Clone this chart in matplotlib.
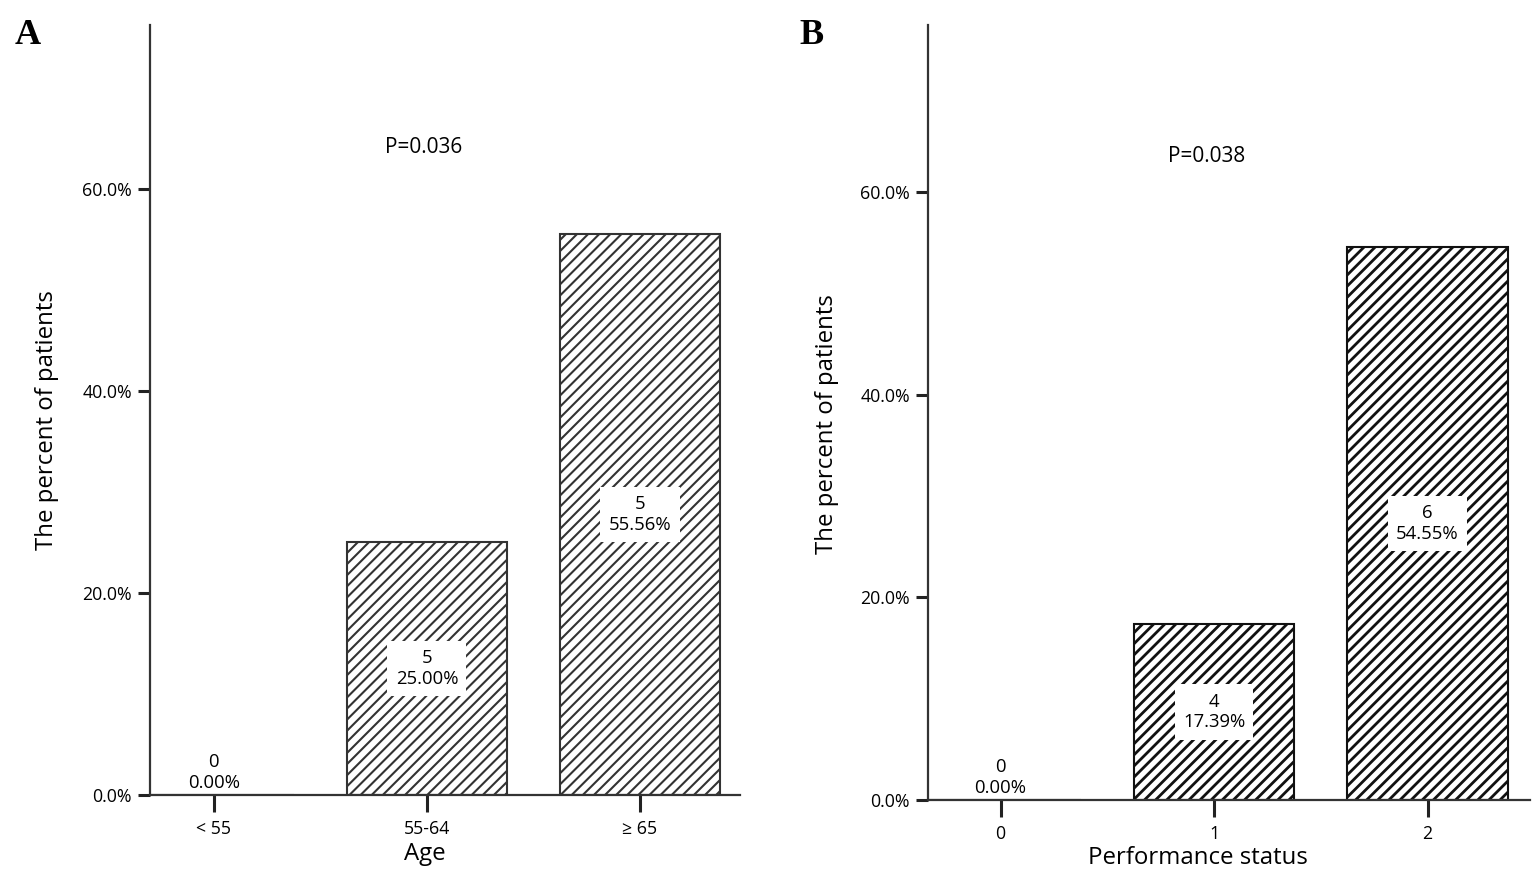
import matplotlib
matplotlib.use("Agg")
import matplotlib.pyplot as plt
from matplotlib.ticker import FuncFormatter

# Data
age_categories = ["< 55", "55-64", "\u2265 65"]
age_counts = [0, 5, 5]
age_percent = [0.0, 25.00, 55.56]
age_p = "P=0.036"

ps_categories = ["0", "1", "2"]
ps_counts = [0, 4, 6]
ps_percent = [0.0, 17.39, 54.55]
ps_p = "P=0.038"

plt.rcParams['font.family'] = ['Open Sans', 'DejaVu Sans']

W, H = 1535, 888
fig = plt.figure(figsize=(W / 100, H / 100), dpi=100)

def px_axes(l, r, b, t):
    return fig.add_axes([l / W, 1 - b / H, (r - l) / W, (b - t) / H])

def draw(ax, cats, counts, pcts, ptxt, xlabel, ptxt_pos, xlim, ytop,
         hatch_lw, edge):
    x = list(range(len(cats)))
    with plt.rc_context({'hatch.linewidth': hatch_lw, 'hatch.color': edge}):
        ax.bar(x, pcts, width=0.75, color="white", edgecolor=edge,
               linewidth=1.5, hatch="///")
    for xi, c, p in zip(x, counts, pcts):
        txt = f"{c}\n{p:.2f}%"
        if p > 0:
            ax.text(xi, p / 2, txt, ha="center", va="center", fontsize=13.3,
                    linespacing=1.2,
                    bbox=dict(facecolor="white", edgecolor="none", pad=6))
        else:
            ax.text(xi, 0.3, txt, ha="center", va="bottom", fontsize=13.3,
                    linespacing=1.2)
    ax.set_xlim(*xlim)
    ax.set_ylim(0, ytop)
    ax.set_xticks(x)
    ax.set_xticklabels(cats)
    ax.set_yticks([0, 20, 40, 60])
    ax.yaxis.set_major_formatter(FuncFormatter(lambda v, _: f"{v:.1f}%"))
    for s in ("top", "right"):
        ax.spines[s].set_visible(False)
    for s in ("left", "bottom"):
        ax.spines[s].set_linewidth(1.6)
        ax.spines[s].set_color("#333333")
    ax.tick_params(axis="y", direction="out", length=9, width=2.2,
                   labelsize=12.8, pad=4, color="#222222")
    ax.tick_params(axis="x", direction="out", length=12, width=2.2,
                   labelsize=12.8, pad=6, color="#222222")
    ax.set_ylabel("The percent of patients", fontsize=17.3)
    ax.set_xlabel(xlabel, fontsize=17.3)
    ax.text(ptxt_pos[0], ptxt_pos[1], ptxt, ha="center", va="center",
            fontsize=15, transform=ax.transData)
    return ax

axA = px_axes(150, 740, 795, 25)
draw(axA, age_categories, age_counts, age_percent, age_p, "Age",
     (0.985, 64.1), (-0.30, 2.47), 76.2, 1.5, "#333333")
axA.xaxis.set_label_coords((425 - 150) / 590, -(854 - 795) / 770)
axA.yaxis.set_label_coords(-(150 - 47) / 590, (795 - 420) / 770)
axA.xaxis.label.set_va("center")
axA.yaxis.label.set_va("center")

axB = px_axes(928, 1530, 800, 25)
draw(axB, ps_categories, ps_counts, ps_percent, ps_p, "Performance status",
     (0.965, 63.5), (-0.34, 2.48), 76.5, 2.0, "#111111")
axB.xaxis.set_label_coords((1198 - 928) / 602, -(858 - 800) / 775)
axB.yaxis.set_label_coords(-(928 - 827) / 602, (800 - 424) / 775)
axB.xaxis.label.set_va("center")
axB.yaxis.label.set_va("center")

fig.text(28 / W, 1 - 35 / H, "A", fontsize=26, fontweight="bold",
         family="Liberation Serif", ha="center", va="center")
fig.text(812 / W, 1 - 35 / H, "B", fontsize=26, fontweight="bold",
         family="Liberation Serif", ha="center", va="center")

fig.savefig("out.png", dpi=100, facecolor="white")
